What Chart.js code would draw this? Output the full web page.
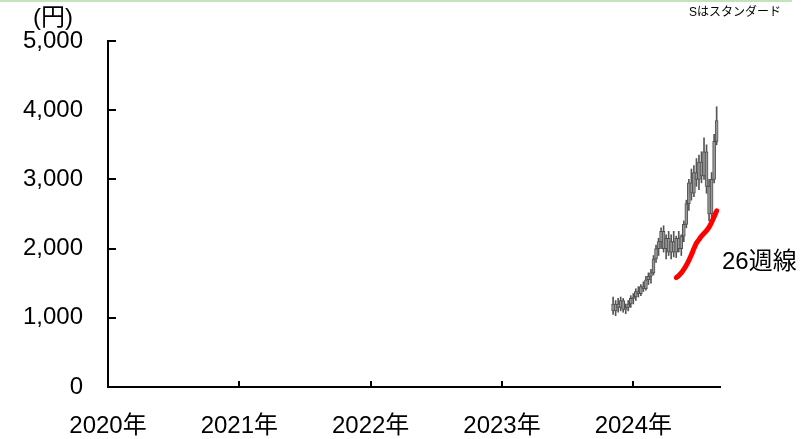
<!DOCTYPE html>
<html>
<head>
<meta charset="utf-8">
<script src="https://cdn.jsdelivr.net/npm/chart.js@4"></script>
<style>
html,body{margin:0;padding:0;background:#fff;}
#wrap{position:relative;width:808px;height:439px;}
canvas{display:block;}
</style>
</head>
<body>
<div id="wrap"><canvas id="c" width="808" height="439"></canvas></div>
<script>
// ---- data (weekly candles, x in decimal years) ----
const yearTicks = [2020, 2021, 2022, 2023, 2024];
const startWeek = 2023.846;
const opens  = [1200,1100,1200,1150,1250,1120,1150,1200,1280,1300,1380,1350,1450,1420,1550,1600,1650,1850,2000,2100,2250,2000,2150,1950,2100,1950,2150,2000,2180,2350,2650,2950,2800,3100,3000,3250,3050,3400,2900,2500,3000,3550];
const highs  = [1300,1250,1280,1300,1280,1200,1250,1320,1350,1420,1450,1480,1520,1600,1650,1700,1900,2050,2150,2300,2330,2200,2250,2200,2250,2180,2250,2200,2400,2700,3000,3150,3200,3300,3350,3400,3600,3500,3000,3100,3650,4050];
const lows   = [1050,1030,1080,1100,1080,1060,1100,1150,1200,1250,1300,1320,1380,1400,1480,1500,1620,1800,1900,2000,1950,1850,1900,1850,1880,1870,1950,1900,2100,2300,2550,2700,2750,2900,2850,2950,3000,2800,2400,2450,2950,3500];
const closes = [1100,1200,1150,1250,1120,1150,1200,1280,1300,1380,1350,1450,1420,1550,1600,1650,1850,2000,2100,2250,2000,2150,1950,2100,1950,2150,2000,2180,2350,2650,2950,2800,3100,3000,3250,3050,3400,2900,2500,3000,3550,3850];
const maStartIndex = 25;
const ma26 = [1580,1610,1650,1700,1760,1830,1910,2000,2080,2130,2180,2220,2260,2310,2380,2460,2545];
const unitLabel = '(円)';
const noteLabel = 'Sはスタンダード';
const maLabel = '26週線';

const FONT = "'Liberation Sans', Arial, 'Noto Sans CJK JP', sans-serif";
const wx = i => startWeek + i / 52;
const wickData = highs.map((h, i) => ({x: wx(i), y: [lows[i], h]}));
const bodyData = opens.map((o, i) => ({x: wx(i), y: [Math.min(o, closes[i]), Math.max(o, closes[i])]}));
const maData = ma26.map((v, k) => ({x: wx(maStartIndex + k), y: v}));

const deco = {
  id: 'deco',
  afterDraw(chart) {
    const ctx = chart.ctx, xs = chart.scales.x, ys = chart.scales.y, ca = chart.chartArea;
    ctx.save();
    // top green rule
    ctx.fillStyle = '#c5e3b8';
    ctx.fillRect(0, 0, 792, 2);
    // inward ticks
    ctx.strokeStyle = '#000';
    ctx.lineWidth = 2;
    ctx.beginPath();
    yearTicks.slice(1).forEach(v => {
      const px = Math.round(xs.getPixelForValue(v)) ;
      ctx.moveTo(px, ca.bottom); ctx.lineTo(px, ca.bottom - 6);
    });
    [1000, 2000, 3000, 4000, 5000].forEach(v => {
      const py = Math.round(ys.getPixelForValue(v));
      ctx.moveTo(ca.left, py); ctx.lineTo(ca.left + 8, py);
    });
    ctx.stroke();
    // texts
    ctx.fillStyle = '#000';
    ctx.textBaseline = 'middle';
    ctx.font = '24px ' + FONT;
    ctx.textAlign = 'center';
    ctx.fillText(unitLabel, 53, 18);
    ctx.textAlign = 'left';
    ctx.fillText(maLabel, ca.right + 2, ys.getPixelForValue(1800));
    ctx.font = '12px ' + FONT;
    ctx.textAlign = 'right';
    ctx.fillText(noteLabel, 781, 13);
    ctx.restore();
  }
};

new Chart(document.getElementById('c'), {
  type: 'bar',
  data: {
    datasets: [
      {type: 'bar', data: wickData, backgroundColor: '#555', barThickness: 1, grouped: false, order: 3},
      {type: 'bar', data: bodyData, backgroundColor: '#9a9a9a', borderColor: '#505050', borderWidth: 1,
       borderSkipped: false, barThickness: 3, grouped: false, order: 2},
      {type: 'line', data: maData, borderColor: '#ff0000', borderWidth: 5, pointRadius: 0, tension: 0.3,
       borderCapStyle: 'round', borderJoinStyle: 'round', order: 1}
    ]
  },
  options: {
    responsive: false,
    animation: false,
    events: [],
    layout: {padding: {left: 0, right: 88, top: 41, bottom: 0}},
    plugins: {legend: {display: false}, tooltip: {enabled: false}},
    scales: {
      x: {
        type: 'linear', min: 2020, max: 2024.66, offset: false,
        grid: {display: false, drawTicks: false, offset: false},
        border: {display: true, color: '#000', width: 2},
        ticks: {stepSize: 1, includeBounds: false, autoSkip: false, maxRotation: 0, padding: 25, color: '#000',
                font: {family: FONT, size: 24},
                callback: v => Number.isInteger(v) ? v + '年' : ''},
        afterFit: s => { s.height = 52; }
      },
      y: {
        min: 0, max: 5000,
        grid: {display: false, drawTicks: false},
        border: {display: true, color: '#000', width: 2},
        ticks: {stepSize: 1000, padding: 25, color: '#000', font: {family: FONT, size: 24},
                callback: v => String(v).replace(/\B(?=(\d{3})+(?!\d))/g, ',')},
        afterFit: s => { s.width = 108; }
      }
    }
  },
  plugins: [deco]
});
</script>
</body>
</html>
